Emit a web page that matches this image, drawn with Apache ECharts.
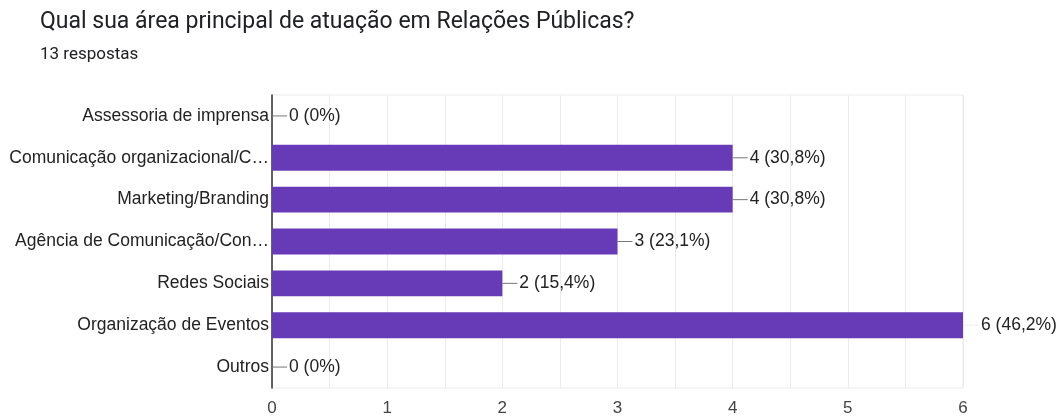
<!DOCTYPE html>
<html><head><meta charset="utf-8">
<script src="https://cdn.jsdelivr.net/npm/echarts@6/dist/echarts.min.js"></script>
<style>html,body{margin:0;padding:0;background:#fff}#c{width:1057px;height:417px}</style>
</head><body><div id="c"></div>
<script>
const categories = ["Assessoria de imprensa","Comunicação organizacional/C…","Marketing/Branding","Agência de Comunicação/Con…","Redes Sociais","Organização de Eventos","Outros"];
const counts = [0,4,4,3,2,6,0];
const percents = ["0%","30,8%","30,8%","23,1%","15,4%","46,2%","0%"];
const xTicks = [0,1,2,3,4,5,6];

const FONT = '"Liberation Sans", Arial, sans-serif';
const chart = echarts.init(document.getElementById('c'));
chart.setOption({
  animation:false,
  title:{
    text:'Qual sua área principal de atuação em Relações Públicas?',
    subtext:'13 respostas',
    left:35, top:6, itemGap:12,
    textStyle:{fontFamily:'Roboto',fontSize:23,fontWeight:'normal',color:'#202124'},
    subtextStyle:{fontFamily:'Roboto',fontSize:17,color:'#202124'}
  },
  grid:{left:272,right:94,top:95,bottom:26,show:true,borderColor:'#ebebeb',borderWidth:1},
  xAxis:{
    type:'value',min:0,max:6,interval:0.5,
    axisLine:{show:false},axisTick:{show:false},
    splitLine:{lineStyle:{color:'#ebebeb'}},
    axisLabel:{fontFamily:FONT,fontSize:17,color:'#444',margin:12,
      formatter:v=> xTicks.includes(v)? String(v):''}
  },
  yAxis:{
    type:'category',data:categories,inverse:true,
    axisLine:{lineStyle:{color:'#333',width:1.5}},axisTick:{show:false},
    axisLabel:{fontFamily:FONT,fontSize:17.5,color:'#222',margin:3}
  },
  series:[{
    type:'bar',barCategoryGap:'38%',
    data:counts.map((v,i)=>({value:v,label:{
      rich:{ln:{width:v===6?16:15,height:1,backgroundColor: v===6?'#eee':'#777'},t:{fontFamily:FONT,fontSize:17.5,color:'#222',padding:[0,0,0,2]}}
    }})),
    itemStyle:{color:'#673ab7'},
    label:{show:true,position:'right',distance:0,
      formatter:p=>'{ln|}{t|'+counts[p.dataIndex]+' ('+percents[p.dataIndex]+')}'}
  }]
});
</script></body></html>
